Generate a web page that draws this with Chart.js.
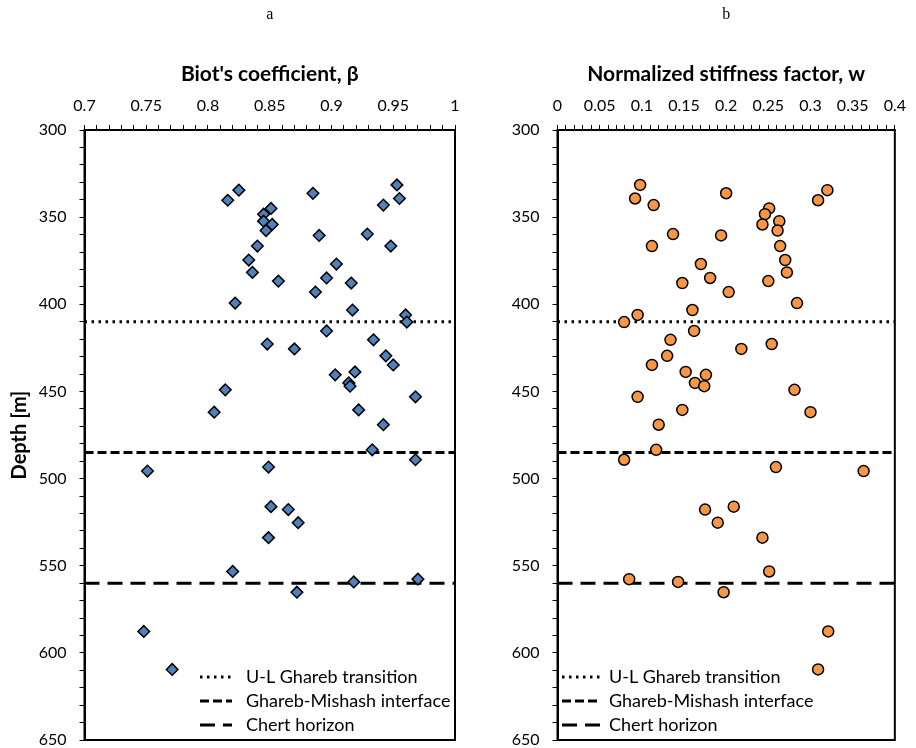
<!DOCTYPE html>
<html><head><meta charset="utf-8">
<script src="https://cdn.jsdelivr.net/npm/chart.js@4"></script>
<style>
html,body{margin:0;padding:0;background:#fff;overflow:hidden;}
#wrap{position:relative;width:916px;height:748px;overflow:hidden;}
canvas{position:absolute;top:0;}
#c1{left:0;}
#c2{left:470px;}
</style></head><body>
<div id="wrap"><canvas id="c1" width="470" height="760"></canvas><canvas id="c2" width="446" height="760"></canvas></div>
<script>
// ---- data ----
const depth = [331.5, 334.5, 336.3, 339.3, 340.3, 343.1, 345.0, 348.3, 352.3, 354.2, 357.7, 359.7, 360.5, 366.6, 366.6, 374.6, 376.9, 381.7, 384.9, 386.7, 387.8, 393.0, 399.3, 403.3, 406.1, 410.2, 415.3, 420.4, 422.8, 425.6, 429.6, 434.8, 438.8, 440.5, 445.1, 447.0, 449.1, 453.1, 460.6, 461.9, 469.1, 483.5, 489.2, 493.4, 495.7, 516.1, 517.8, 525.3, 533.9, 553.3, 557.7, 559.3, 565.2, 587.7, 609.5];
const biot = [0.953, 0.825, 0.885, 0.955, 0.816, 0.942, 0.851, 0.845, 0.845, 0.852, 0.847, 0.929, 0.890, 0.840, 0.948, 0.833, 0.904, 0.836, 0.896, 0.857, 0.916, 0.887, 0.822, 0.917, 0.960, 0.961, 0.896, 0.934, 0.848, 0.870, 0.944, 0.950, 0.919, 0.903, 0.914, 0.915, 0.814, 0.968, 0.922, 0.805, 0.942, 0.933, 0.968, 0.849, 0.751, 0.851, 0.865, 0.873, 0.849, 0.820, 0.970, 0.918, 0.872, 0.748, 0.771];
const stiffness = [0.098, 0.320, 0.200, 0.092, 0.309, 0.114, 0.251, 0.246, 0.263, 0.243, 0.261, 0.137, 0.194, 0.264, 0.112, 0.270, 0.170, 0.272, 0.181, 0.250, 0.148, 0.203, 0.284, 0.160, 0.095, 0.079, 0.162, 0.134, 0.254, 0.218, 0.130, 0.112, 0.152, 0.176, 0.163, 0.174, 0.281, 0.095, 0.148, 0.300, 0.120, 0.117, 0.079, 0.259, 0.363, 0.209, 0.175, 0.190, 0.243, 0.251, 0.085, 0.143, 0.197, 0.321, 0.309];
const boundaryLabels = ['U-L Ghareb transition', 'Ghareb-Mishash interface', 'Chert horizon'];
const boundaryDepths = [410, 485, 560];
const biotRange = [0.7, 1];
const stiffRange = [0, 0.4];
const depthRange = [300, 650];
const panelLetters = ['a', 'b'];
const xTitles = ["Biot's coefficient, \u03B2", 'Normalized stiffness factor, w'];
const yTitle = 'Depth [m]';

// ---- styles ----
const boundaryStyles = [
  {borderDash: [2.5, 4.5], borderWidth: 3},
  {borderDash: [9, 4], borderWidth: 3},
  {borderDash: [15, 8], borderWidth: 3}
];
const tickFont = {family: 'Lato', size: 16};

const framePlugin = {
  id: 'frame',
  afterDraw(chart) {
    const {ctx, chartArea: a} = chart;
    ctx.save();
    ctx.strokeStyle = '#000';
    ctx.lineWidth = 2;
    ctx.strokeRect(a.left, a.top, a.right - a.left, a.bottom - a.top);
    ctx.restore();
  }
};
const legendPlugin = {
  id: 'insideLegend',
  afterDraw(chart, args, o) {
    const {ctx} = chart;
    ctx.save();
    ctx.font = '18px Lato';
    ctx.fillStyle = '#000';
    ctx.textBaseline = 'middle';
    ctx.textAlign = 'left';
    boundaryLabels.forEach((lab, i) => {
      const ds = chart.data.datasets[i + 1];
      const y = o.rowY[i];
      ctx.beginPath();
      ctx.setLineDash(ds.borderDash);
      ctx.lineWidth = ds.borderWidth;
      ctx.strokeStyle = '#000';
      ctx.moveTo(o.x0, y); ctx.lineTo(o.x1, y); ctx.stroke();
      ctx.setLineDash([]);
      ctx.fillText(lab, o.tx, y);
    });
    ctx.restore();
  }
};

function makeChart(id, values, range, idx, opts) {
  const points = depth.map((d, i) => ({x: values[i], y: d}));
  const datasets = [{
    data: points,
    pointStyle: opts.pointStyle,
    pointRadius: opts.radius,
    pointBackgroundColor: opts.color,
    pointBorderColor: '#000',
    pointBorderWidth: 1.5,
    showLine: false,
    order: 0
  }];
  boundaryDepths.forEach((d, i) => {
    datasets.push({
      label: boundaryLabels[i],
      data: [{x: range[0], y: d}, {x: range[1], y: d}],
      showLine: true,
      borderColor: '#000',
      borderWidth: boundaryStyles[i].borderWidth,
      borderDash: boundaryStyles[i].borderDash,
      borderCapStyle: 'butt',
      pointRadius: 0,
      fill: false,
      order: 1
    });
  });
  return new Chart(document.getElementById(id), {
    type: 'scatter',
    data: {datasets},
    plugins: [framePlugin, legendPlugin],
    options: {
      responsive: false,
      maintainAspectRatio: false,
      animation: false,
      devicePixelRatio: 1,
      layout: {padding: {left: 0, right: opts.padRight, top: 0, bottom: 20}},
      plugins: {
        legend: {display: false},
        tooltip: {enabled: false},
        title: {display: true, text: panelLetters[idx], fullSize: false, color: '#000',
          font: {family: 'Liberation Serif', size: 16, weight: 'normal', lineHeight: 1.2},
          padding: {top: 5, bottom: 0}},
        insideLegend: opts.legend
      },
      scales: {
        x: {
          type: 'linear', position: 'top', min: range[0], max: range[1],
          afterFit: (s) => { s.height = 105.8; },
          border: {display: true, color: '#000', width: 2},
          grid: {display: true, drawOnChartArea: false, drawTicks: true, tickLength: 5, color: '#000', lineWidth: 1},
          ticks: {stepSize: 0.01, autoSkip: false, maxRotation: 0, minRotation: 0, padding: 10, color: '#000', font: tickFont,
            callback: (v) => { const k = v * 20; return Math.abs(k - Math.round(k)) < 1e-6 ? String(+v.toFixed(2)) : ''; }},
          title: {display: true, text: xTitles[idx], color: '#000',
            font: {family: 'Lato', size: 21, weight: 'bold', lineHeight: 1.2}, padding: {top: 37, bottom: 0}}
        },
        y: {
          type: 'linear', position: 'left', reverse: true, min: depthRange[0], max: depthRange[1],
          afterFit: (s) => { s.width = opts.yWidth; s.paddingTop = 0; s.paddingBottom = 0; },
          border: {display: true, color: '#000', width: 2},
          grid: {display: true, drawOnChartArea: false, drawTicks: true, tickLength: 5, color: '#000', lineWidth: 1},
          ticks: {stepSize: 10, autoSkip: false, padding: 13, color: '#000', font: tickFont,
            callback: (v) => (Math.round(v) % 50 === 0 ? String(Math.round(v)) : '')},
          title: {display: opts.showYTitle, text: yTitle, color: '#000',
            font: {family: 'Lato', size: 20, weight: 'bold', lineHeight: 1.2}, padding: {top: 8, bottom: 0}}
        }
      }
    }
  });
}

makeChart('c1', biot, biotRange, 0, {
  pointStyle: 'rectRot', radius: 5.8, color: '#4F81BD', padRight: 15, yWidth: 84.5, showYTitle: true,
  legend: {x0: 200, x1: 232, tx: 246, rowY: [677, 701, 725]}
});
makeChart('c2', stiffness, stiffRange, 1, {
  pointStyle: 'circle', radius: 5.5, color: '#F79646', padRight: 13.3, yWidth: 87.5, showYTitle: false,
  legend: {x0: 92, x1: 130, tx: 139, rowY: [677, 701, 725]}
});
</script>
</body></html>
